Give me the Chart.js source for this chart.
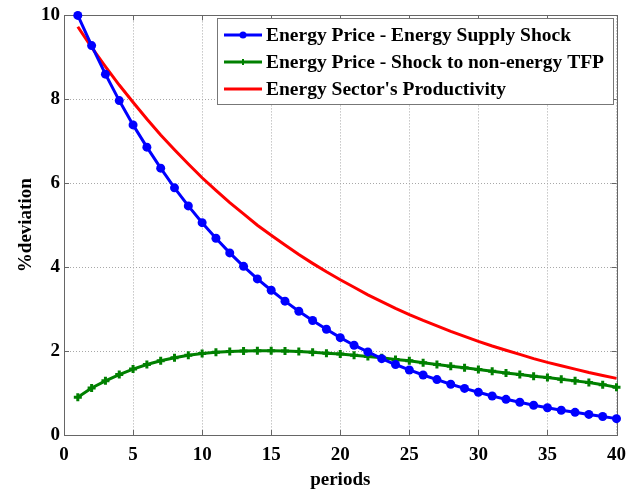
<!DOCTYPE html>
<html>
<head>
<meta charset="utf-8">
<script src="https://cdn.jsdelivr.net/npm/chart.js@4.4.0/dist/chart.umd.min.js"></script>
<style>
html, body { margin: 0; padding: 0; background: #fff; }
#wrap { width: 635px; height: 495px; }
</style>
</head>
<body>
<div id="wrap"><canvas id="irfChart" width="635" height="495"></canvas></div>
<script>
// periods after the shock
var periods = [1, 2, 3, 4, 5, 6, 7, 8, 9, 10, 11, 12, 13, 14, 15, 16, 17, 18, 19, 20,
               21, 22, 23, 24, 25, 26, 27, 28, 29, 30, 31, 32, 33, 34, 35, 36, 37, 38, 39, 40];

// energy price response to an energy supply shock (% deviation)
var supplyShock = [10.00, 9.28, 8.60, 7.97, 7.39, 6.86, 6.36, 5.89, 5.46, 5.06,
                   4.69, 4.34, 4.02, 3.72, 3.45, 3.19, 2.95, 2.73, 2.52, 2.32,
                   2.14, 1.98, 1.82, 1.68, 1.55, 1.43, 1.32, 1.21, 1.11, 1.02,
                   0.93, 0.85, 0.78, 0.71, 0.65, 0.59, 0.54, 0.49, 0.44, 0.39];

// energy price response to a shock to non-energy TFP
var tfpShock = [0.90, 1.12, 1.29, 1.44, 1.57, 1.68, 1.77, 1.84, 1.90, 1.94,
                1.97, 1.99, 2.00, 2.01, 2.01, 2.00, 1.99, 1.97, 1.95, 1.93,
                1.90, 1.87, 1.84, 1.80, 1.77, 1.72, 1.68, 1.64, 1.60, 1.56,
                1.52, 1.48, 1.44, 1.40, 1.37, 1.33, 1.29, 1.25, 1.20, 1.14];

// energy sector productivity
var productivity = [9.73, 9.24, 8.78, 8.34, 7.93, 7.53, 7.15, 6.80, 6.46, 6.13,
                    5.83, 5.54, 5.27, 5.00, 4.76, 4.53, 4.30, 4.09, 3.89, 3.70,
                    3.52, 3.34, 3.18, 3.02, 2.87, 2.73, 2.60, 2.47, 2.35, 2.23,
                    2.12, 2.02, 1.92, 1.82, 1.73, 1.65, 1.57, 1.49, 1.42, 1.35];

var seriesNames = ['Energy Price - Energy Supply Shock',
                   'Energy Price - Shock to non-energy TFP',
                   "Energy Sector's Productivity"];

var xTicks = [0, 5, 10, 15, 20, 25, 30, 35, 40];
var yTicks = [0, 2, 4, 6, 8, 10];

var serif = "'Liberation Serif', 'Times New Roman', serif";

function toPoints(values) {
    return values.map(function(v, i) { return { x: periods[i], y: v }; });
}

// box around the axes with inward tick marks on all four sides
var axisBox = {
    id: 'axisBox',
    beforeDatasetsDraw: function(chart) {
        var ctx = chart.ctx;
        var a = chart.chartArea;
        var xs = chart.scales.x, ys = chart.scales.y;
        var len = 5;
        ctx.save();
        ctx.strokeStyle = '#666';
        ctx.lineWidth = 1;
        ctx.beginPath();
        xTicks.forEach(function(t) {
            var px = Math.round(xs.getPixelForValue(t)) + 0.5;
            ctx.moveTo(px, a.bottom); ctx.lineTo(px, a.bottom - len);
            ctx.moveTo(px, a.top); ctx.lineTo(px, a.top + len);
        });
        yTicks.forEach(function(t) {
            var py = Math.round(ys.getPixelForValue(t)) + 0.5;
            ctx.moveTo(a.left, py); ctx.lineTo(a.left + len, py);
            ctx.moveTo(a.right, py); ctx.lineTo(a.right - len, py);
        });
        ctx.stroke();
        ctx.strokeRect(Math.round(a.left) + 0.5, Math.round(a.top) + 0.5,
                       Math.round(a.right - a.left), Math.round(a.bottom - a.top));
        ctx.restore();
    }
};

// legend drawn inside the axes, top right, with a frame
var boxLegend = {
    id: 'boxLegend',
    afterDraw: function(chart) {
        var ctx = chart.ctx;
        var left = 217, top = 18, w = 396, h = 86;
        ctx.save();
        ctx.fillStyle = '#fff';
        ctx.fillRect(left, top, w, h);
        ctx.strokeStyle = '#777';
        ctx.lineWidth = 1;
        ctx.strokeRect(left + 0.5, top + 0.5, w, h);
        ctx.font = 'bold 19.5px ' + serif;
        ctx.textBaseline = 'middle';
        ctx.textAlign = 'left';
        chart.data.datasets.forEach(function(ds, i) {
            var cy = 35 + i * 27;
            ctx.strokeStyle = ds.borderColor;
            ctx.lineWidth = 3;
            ctx.beginPath();
            ctx.moveTo(224, cy); ctx.lineTo(262, cy);
            ctx.stroke();
            if (ds.pointStyle === 'circle') {
                ctx.fillStyle = ds.borderColor;
                ctx.beginPath();
                ctx.arc(243, cy, 3.5, 0, Math.PI * 2);
                ctx.fill();
            } else if (ds.pointStyle === 'cross') {
                ctx.lineWidth = 2;
                ctx.beginPath();
                ctx.moveTo(243, cy - 3); ctx.lineTo(243, cy + 3);
                ctx.stroke();
            }
            ctx.fillStyle = '#000';
            ctx.fillText(ds.label, 266, cy + 1);
        });
        ctx.restore();
    }
};

var ctx = document.getElementById('irfChart').getContext('2d');

var irfChart = new Chart(ctx, {
    type: 'line',
    data: {
        datasets: [{
            label: seriesNames[0],
            data: toPoints(supplyShock),
            borderColor: '#0000ff',
            backgroundColor: '#0000ff',
            borderWidth: 3,
            pointStyle: 'circle',
            pointRadius: 4.5,
            pointBorderWidth: 0,
            clip: false
        }, {
            label: seriesNames[1],
            data: toPoints(tfpShock),
            borderColor: '#008000',
            backgroundColor: '#008000',
            borderWidth: 3,
            pointStyle: 'cross',
            pointRadius: 4,
            pointBorderWidth: 3,
            clip: false
        }, {
            label: seriesNames[2],
            data: toPoints(productivity),
            borderColor: '#ff0000',
            backgroundColor: '#ff0000',
            borderWidth: 3,
            pointRadius: 0,
            clip: false
        }]
    },
    options: {
        responsive: false,
        animation: false,
        layout: {
            padding: { top: 12, right: 16, left: 0, bottom: 0 }
        },
        plugins: {
            legend: { display: false },
            tooltip: { enabled: false }
        },
        scales: {
            x: {
                type: 'linear',
                min: 0,
                max: 40,
                afterFit: function(scale) { scale.height = 60; },
                afterBuildTicks: function(scale) {
                    scale.ticks = xTicks.map(function(v) { return { value: v }; });
                },
                grid: { color: '#a8a8a8', drawTicks: false },
                border: { display: false, dash: [1, 2] },
                ticks: {
                    padding: 9,
                    color: '#000',
                    maxRotation: 0,
                    font: { family: serif, size: 19, weight: 'bold' }
                },
                title: {
                    display: true,
                    text: 'periods',
                    color: '#000',
                    padding: { top: 0, bottom: 4 },
                    font: { family: serif, size: 19, weight: 'bold' }
                }
            },
            y: {
                type: 'linear',
                min: 0,
                max: 10,
                afterFit: function(scale) { scale.width = 64; },
                afterBuildTicks: function(scale) {
                    scale.ticks = yTicks.map(function(v) { return { value: v }; });
                },
                grid: { color: '#a8a8a8', drawTicks: false },
                border: { display: false, dash: [1, 2] },
                ticks: {
                    padding: 4,
                    color: '#000',
                    font: { family: serif, size: 19, weight: 'bold' }
                },
                title: {
                    display: true,
                    text: '%deviation',
                    color: '#000',
                    padding: { top: 15, bottom: 0 },
                    font: { family: serif, size: 19, weight: 'bold' }
                }
            }
        }
    },
    plugins: [axisBox, boxLegend]
});
</script>
</body>
</html>
